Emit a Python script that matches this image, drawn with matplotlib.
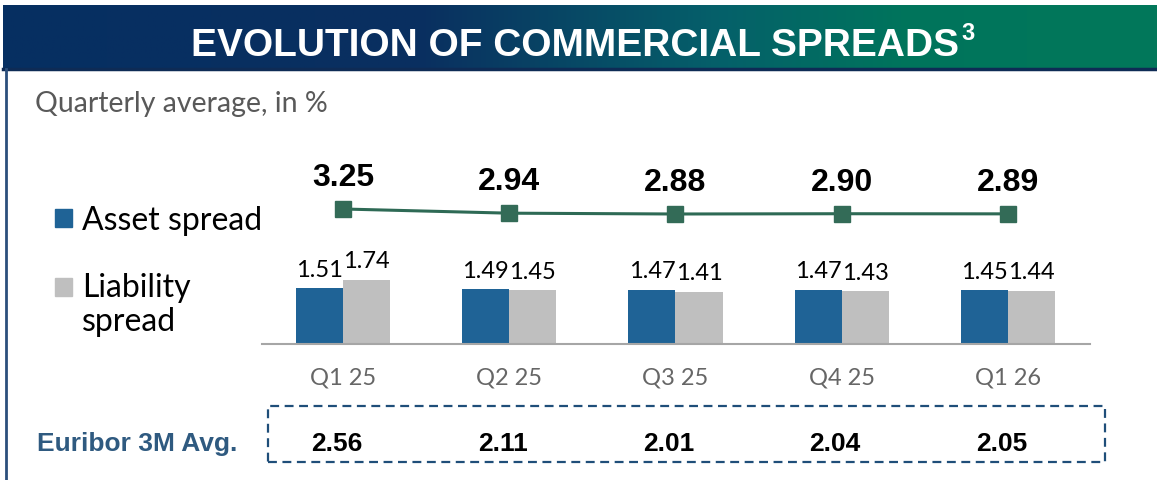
import matplotlib
matplotlib.use('Agg')
import matplotlib.pyplot as plt
import numpy as np
from matplotlib.patches import Rectangle
from matplotlib.colors import LinearSegmentedColormap
import matplotlib.transforms as mtransforms
from matplotlib import font_manager

categories = ['Q1 25', 'Q2 25', 'Q3 25', 'Q4 25', 'Q1 26']
asset_spread = [1.51, 1.49, 1.47, 1.47, 1.45]
liability_spread = [1.74, 1.45, 1.41, 1.43, 1.44]
commercial_spread = [3.25, 2.94, 2.88, 2.90, 2.89]
euribor_3m = [2.56, 2.11, 2.01, 2.04, 2.05]

W, H = 1157, 481
fig = plt.figure(figsize=(W / 100, H / 100), dpi=100)

names = {f.name for f in font_manager.fontManager.ttflist}
NARROW = 'Liberation Sans Narrow' if 'Liberation Sans Narrow' in names else 'Liberation Sans'
REG = 'Lato'
BOLD = 'Liberation Sans'

def fx(px):
    return px / W

def fy(py):
    return 1 - py / H

# header gradient band
hax = fig.add_axes([fx(3), fy(69), 1 - fx(3), (69 - 6) / H])
cmap = LinearSegmentedColormap.from_list(
    'hdr', [(0, '#062f62'), (0.36, '#0a2f60'), (0.62, '#05606a'), (0.78, '#00745c'), (1, '#02785a')])
hax.imshow(np.linspace(0, 1, 512)[None, :], cmap=cmap, aspect='auto', extent=(0, 1, 0, 1))
hax.set_axis_off()
fig.add_artist(plt.Line2D([fx(3), 1], [fy(70), fy(70)], color='#0e2b55', lw=2.5))
fig.add_artist(plt.Line2D([fx(6), fx(6)], [fy(70), 0], color='#2c4f7c', lw=2))

t = fig.text(fx(575), fy(56), 'EVOLUTION OF COMMERCIAL SPREADS', color='white', fontsize=28,
             fontweight='bold', family=NARROW, ha='center', va='baseline')
fig.canvas.draw()
bb = t.get_window_extent(fig.canvas.get_renderer())
fig.text(bb.x1 / W + 0.002, fy(40), '3', color='white', fontsize=17, fontweight='bold',
         family=NARROW, ha='left', va='baseline')

# subtitle
fig.text(fx(35), fy(112), 'Quarterly average, in %', color='#595959', fontsize=20.5,
         family=REG, ha='left', va='baseline')

# legend
fig.add_artist(Rectangle((fx(55), fy(228)), fx(17), 18 / H, color='#1f6396', transform=fig.transFigure))
fig.add_artist(Rectangle((fx(55), fy(297)), fx(17), 18 / H, color='#bfbfbf', transform=fig.transFigure))
fig.text(fx(82), fy(230), 'Asset spread', fontsize=23, family=REG, color='black', va='baseline')
fig.text(fx(82), fy(297), 'Liability', fontsize=23, family=REG, color='black', va='baseline')
fig.text(fx(82), fy(331), 'spread', fontsize=23, family=REG, color='black', va='baseline')

# main chart
left, right, top, bottom = 262, 1090, 150, 345
ax = fig.add_axes([fx(left), fy(bottom), (right - left) / W, (bottom - top) / H])
x = np.arange(len(categories))
w = 0.283
b1 = ax.bar(x - w / 2, asset_spread, w, color='#1f6396')
b2 = ax.bar(x + w / 2, liability_spread, w, color='#bfbfbf')
ax.bar_label(b1, labels=[f'{v:.2f}' for v in asset_spread], padding=6, fontsize=17, family=REG)
ax.bar_label(b2, labels=[f'{v:.2f}' for v in liability_spread], padding=6, fontsize=17, family=REG)
ax.set_xlim(-(343 - left) / 166, 4 + (right - 1008) / 166)
ax.set_ylim(0, (bottom - top) / 37.0)
for s in ['top', 'left', 'right']:
    ax.spines[s].set_visible(False)
ax.spines['bottom'].set_color('#a6a6a6')
ax.spines['bottom'].set_linewidth(1.5)
ax.set_yticks([])
ax.set_xticks(x)
ax.set_xticklabels(categories, color='#666666', fontsize=17, family=REG)
ax.tick_params(axis='x', length=0, pad=16)

ax2 = ax.twinx()
ax2.plot(x, commercial_spread, color='#2e6a55', lw=2.2, marker='s', ms=11,
         markerfacecolor='#336b57', markeredgecolor='#336b57')
ax2.set_ylim(3.25 - (bottom - 210) / 13.5, 3.25 + (210 - top) / 13.5)
ax2.set_axis_off()
for xi, v in zip(x, commercial_spread):
    ax2.annotate(f'{v:.2f}', (xi, v), xytext=(0, 32), textcoords='offset pixels',
                 ha='center', va='center', fontsize=23, fontweight='bold', family=BOLD)

# Euribor row
fig.text(fx(37), fy(451), 'Euribor 3M Avg.', color='#2f5a80', fontsize=19, fontweight='bold',
         family=NARROW, ha='left', va='baseline')
fig.add_artist(Rectangle((fx(268), fy(463)), fx(1105 - 268), (463 - 407) / H, fill=False,
                         edgecolor='#1f4e79', lw=1.6, linestyle=(0, (4, 2.5)),
                         transform=fig.transFigure))
trans = mtransforms.blended_transform_factory(ax.transData, fig.transFigure)
for xi, v in zip(x, euribor_3m):
    fig.text(xi - 0.04, fy(451), f'{v:.2f}', transform=trans, ha='center', va='baseline',
             fontsize=19, fontweight='bold', family=NARROW, color='black')

fig.savefig('out.png', dpi=100)
